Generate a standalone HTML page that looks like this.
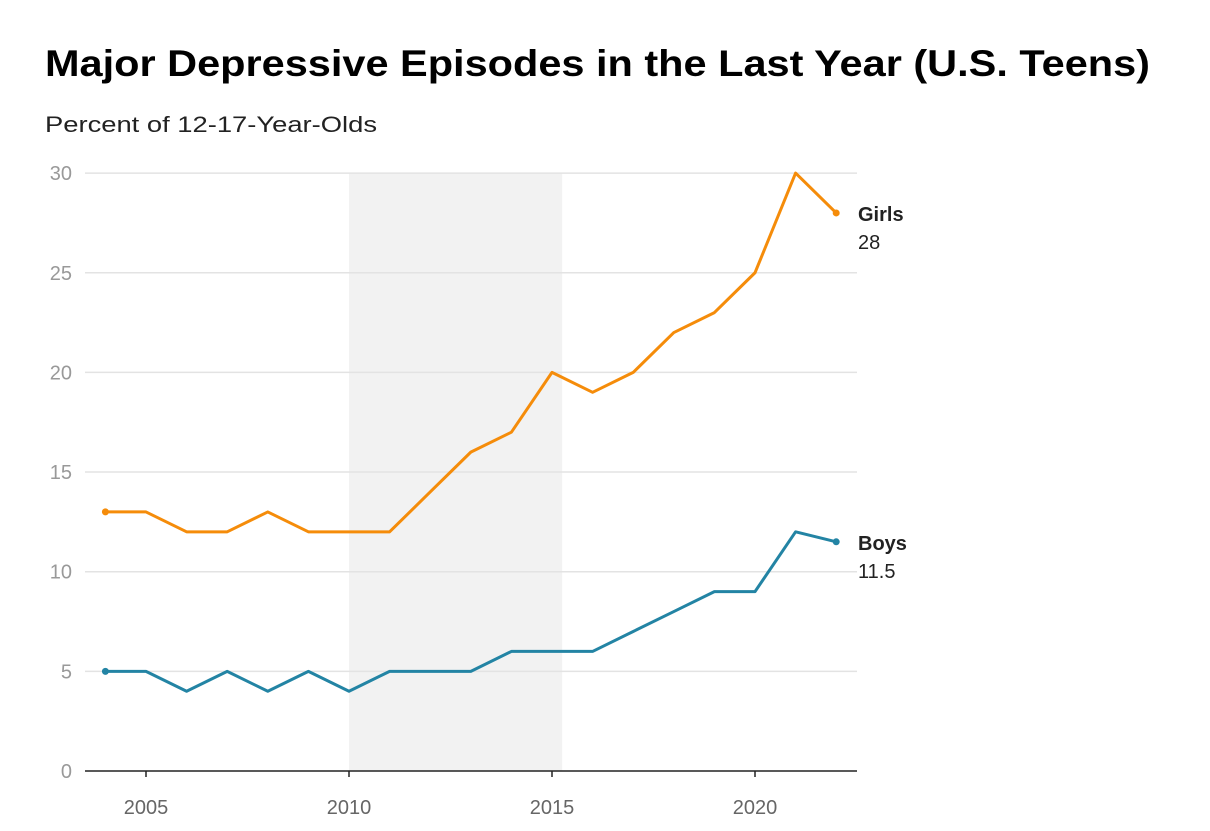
<!DOCTYPE html>
<html><head><meta charset="utf-8"><style>
body{margin:0;background:#fff;font-family:"Liberation Sans",sans-serif;}
svg text{font-family:"Liberation Sans",sans-serif;}
</style></head><body>
<svg width="1210" height="826">
<text x="45" y="76" font-size="37" font-weight="bold" fill="#000" textLength="1105" lengthAdjust="spacingAndGlyphs">Major Depressive Episodes in the Last Year (U.S. Teens)</text>
<text x="45" y="132" font-size="22" fill="#222" textLength="332" lengthAdjust="spacingAndGlyphs">Percent of 12-17-Year-Olds</text>
<g id="plot"></g>
</svg>
<script>
const years=[2004,2005,2006,2007,2008,2009,2010,2011,2012,2013,2014,2015,2016,2017,2018,2019,2020,2021,2022];
const girls=[13,13,12,12,13,12,12,12,14,16,17,20,19,20,22,23,25,30,28];
const boys=[5,5,4,5,4,5,4,5,5,5,6,6,6,7,8,9,9,12,11.5];
const yTicks=[0,5,10,15,20,25,30];
const xTicks=[2005,2010,2015,2020];
const shade=[2010,2015.25];
const NS="http://www.w3.org/2000/svg";
const g=document.getElementById('plot');
const x=v=>146+(v-2005)*40.6;
const y=v=>771-v*19.93;
function mk(t,a,p){const e=document.createElementNS(NS,t);for(const k in a)e.setAttribute(k,a[k]);(p||g).appendChild(e);return e;}
let r=mk('rect',{x:x(shade[0]),y:y(30),width:x(shade[1])-x(shade[0]),height:y(0)-y(30),fill:'#f2f2f2'});


yTicks.forEach(t=>{
 if(t>0){let l=mk('line',{x1:85,x2:857,y1:y(t),y2:y(t),stroke:'#e3e3e3','stroke-width':1.5});
 
 }
 let tx=mk('text',{x:72,y:y(t)+7,'text-anchor':'end','font-size':20,fill:'#999'});tx.textContent=t;
 
 
});
let ax=mk('line',{x1:85,x2:857,y1:y(0),y2:y(0),stroke:'#222','stroke-width':1.5});


xTicks.forEach(t=>{
 let tk=mk('line',{x1:x(t),x2:x(t),y1:y(0),y2:y(0)+6,stroke:'#222','stroke-width':1.5});
 
 
 let tx=mk('text',{x:x(t),y:814,'text-anchor':'middle','font-size':20,fill:'#666'});tx.textContent=t;
 
 
});
function series(vals,col,name,label){
 let d=vals.map((v,i)=>(i?'L':'M')+x(years[i])+','+y(v)).join('');
 let p=mk('path',{d:d,fill:'none',stroke:col,'stroke-width':3,'stroke-linejoin':'round'});
 
 
 [0,vals.length-1].forEach(i=>{let c=mk('circle',{cx:x(years[i]),cy:y(vals[i]),r:3.5,fill:col});
  
  });
 const last=vals[vals.length-1];
 let t1=mk('text',{x:858,y:y(last)+8,'font-size':20,'font-weight':'bold',fill:'#222'});t1.textContent=label;
 
 
 let t2=mk('text',{x:858,y:y(last)+36,'font-size':20,fill:'#222'});t2.textContent=last;
 
 
}
series(girls,'#f58c0a','girls','Girls');
series(boys,'#2384a4','boys','Boys');
</script>
</body></html>
